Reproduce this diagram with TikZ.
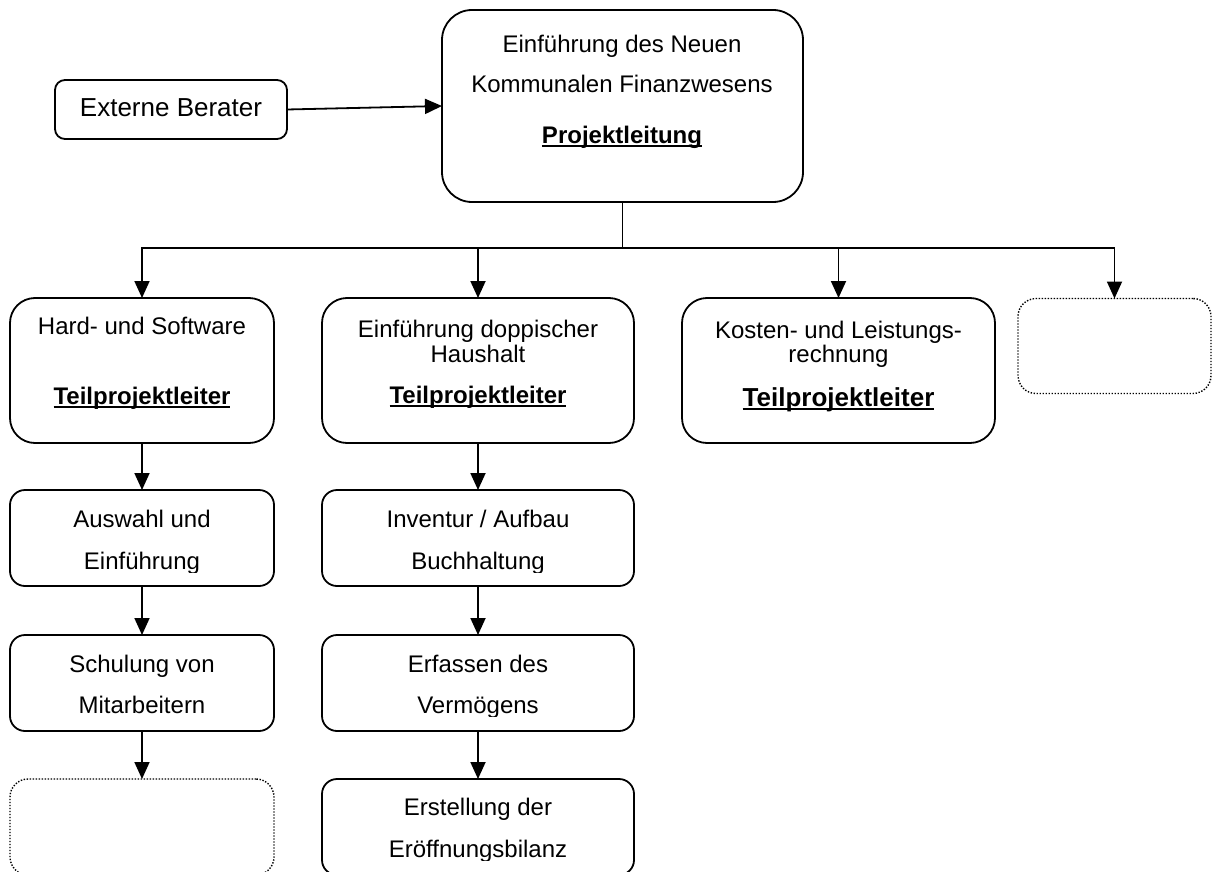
\documentclass[tikz,border=0pt]{standalone}
\usepackage{fontspec}
\setmainfont{Liberation Sans}
\usetikzlibrary{arrows.meta}
\newcommand\ulbox[1]{\setbox0\hbox{#1}\rlap{\copy0}\rule[-4pt]{\wd0}{2pt}}
\begin{document}
\begin{tikzpicture}[x=1pt,y=-1pt,
  rbox/.style={draw, line width=1.8pt, rectangle, rounded corners=#1, inner sep=0pt, outer sep=0pt},
  dbox/.style={draw, line width=1.4pt, dash pattern=on 1.4pt off 1.6pt, rectangle, rounded corners=18pt, inner sep=0pt, outer sep=0pt},
  txt/.style={anchor=base, inner sep=0pt, font=\fontsize{24}{28}\selectfont},
  bigtxt/.style={anchor=base, inner sep=0pt, font=\fontsize{26}{30}\selectfont},
  arr/.style={line width=1.8pt, -{Triangle[width=15pt,length=17pt]}},
  conn/.style={line width=1.8pt}]
\useasboundingbox (0,0) rectangle (1212,872);
\clip (0,0) rectangle (1212,872);

% boxes
\node[rbox=10pt, minimum width=232pt, minimum height=59pt] (ext) at (171,109.5) {};
\node[rbox=30pt, minimum width=361pt, minimum height=192pt] (top) at (622.5,106) {};
\node[rbox=25pt, minimum width=264pt, minimum height=145pt] (b1) at (142,370.5) {};
\node[rbox=25pt, minimum width=312pt, minimum height=145pt] (b2) at (478,370.5) {};
\node[rbox=25pt, minimum width=313pt, minimum height=145pt] (b3) at (838.5,370.5) {};
\node[dbox, minimum width=193pt, minimum height=95pt] (b4) at (1114.5,346) {};
\node[rbox=15pt, minimum width=264pt, minimum height=96pt] (c1) at (142,538) {};
\node[rbox=15pt, minimum width=312pt, minimum height=96pt] (c2) at (478,538) {};
\node[rbox=15pt, minimum width=264pt, minimum height=96pt] (e1) at (142,683) {};
\node[rbox=15pt, minimum width=312pt, minimum height=96pt] (e2) at (478,683) {};
\node[dbox, minimum width=264pt, minimum height=96pt] (f1) at (142,827) {};
\node[rbox=15pt, minimum width=312pt, minimum height=96pt] (f2) at (478,827) {};

% texts
\node[bigtxt] (extt) at (171,117) {Externe Berater};
\node[txt] (topa) at (622,53) {Einführung des Neuen};
\node[txt] (topb) at (622,93) {Kommunalen Finanzwesens};
\node[txt] (topc) at (622,143) {\ulbox{\bfseries Projektleitung}};
\node[txt] (b1a) at (142,334) {Hard- und Software};
\node[txt] (b1b) at (142,404) {\ulbox{\bfseries Teilprojektleiter}};
\node[txt] (b2a) at (478,337) {Einführung doppischer};
\node[txt] (b2b) at (478,362) {Haushalt};
\node[txt] (b2c) at (478,403) {\ulbox{\bfseries Teilprojektleiter}};
\node[txt] (b3a) at (838.5,338) {Kosten- und Leistungs-};
\node[txt] (b3b) at (838.5,362) {rechnung};
\node[bigtxt] (b3c) at (838.5,406) {\ulbox{\bfseries Teilprojektleiter}};
\node[txt] (c1a) at (142,527) {Auswahl und};
\node[txt] (c2a) at (478,527) {Inventur / Aufbau};
\node[txt] (e1a) at (142,672) {Schulung von};
\node[txt] (e2a) at (478,672) {Erfassen des};
\node[txt] (f2a) at (478,815) {Erstellung der};
\node[txt] (e1b) at (142,713) {Mitarbeitern};
\begin{scope}
\clip (10,540) rectangle (634,572);
\node[txt] (c1b) at (142,569) {Einführung};
\node[txt] (c2b) at (478,569) {Buchhaltung};
\end{scope}
\begin{scope}
\clip (322,690) rectangle (634,716);
\node[txt] (e2b) at (478,713) {Vermögens};
\end{scope}
\begin{scope}
\clip (322,830) rectangle (634,860);
\node[txt] (f2b) at (478,857) {Eröffnungsbilanz};
\end{scope}

% connectors
\coordinate (bus) at (622.5,248);
\draw[arr] (ext.east) -- (top.west);
\draw[conn] (top.south) -- (bus);
\draw[arr] (bus) -| (b1.north);
\draw[arr] (bus) -| (b2.north);
\draw[arr] (bus) -| (b3.north);
\draw[arr] (bus) -| (b4.north);
\draw[arr] (b1.south) -- (c1.north);
\draw[arr] (c1.south) -- (e1.north);
\draw[arr] (e1.south) -- (f1.north);
\draw[arr] (b2.south) -- (c2.north);
\draw[arr] (c2.south) -- (e2.north);
\draw[arr] (e2.south) -- (f2.north);
\end{tikzpicture}
\end{document}
